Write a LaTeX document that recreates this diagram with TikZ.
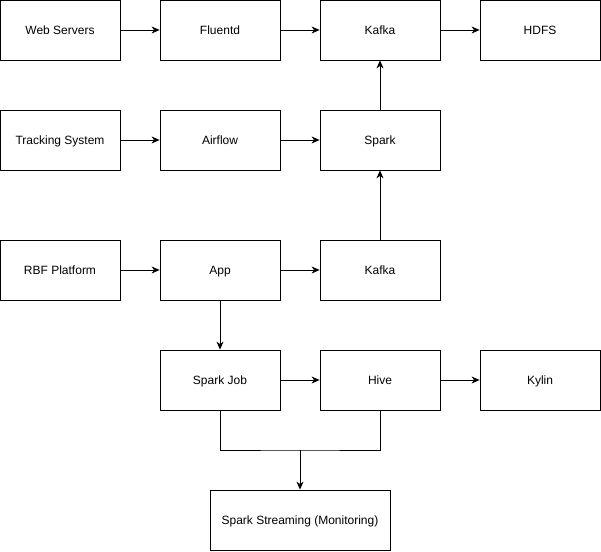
\documentclass[tikz,border=0pt]{standalone}
\usepackage{fontspec}
\setmainfont{Liberation Sans}
\usetikzlibrary{arrows.meta}
\begin{document}
\begin{tikzpicture}[x=1pt,y=-1pt,
  box/.style={draw,line width=0.8pt,minimum width=120pt,minimum height=60pt,inner sep=0pt,text height=9pt,text depth=0.5pt,font=\fontsize{12}{14}\selectfont},
  wide/.style={box,minimum width=180pt},
  arr/.style={line width=0.8pt,-{Stealth[length=8pt,width=7pt,inset=2.5pt]}}]
\useasboundingbox (0,0) rectangle (601,551);
\node[box] (web) at (60,30) {Web Servers};
\node[box] (flu) at (220,30) {Fluentd};
\node[box] (kaf1) at (380,30) {Kafka};
\node[box] (hdfs) at (540,30) {HDFS};
\node[box] (trk) at (60,140) {Tracking System};
\node[box] (air) at (220,140) {Airflow};
\node[box] (spk) at (380,140) {Spark};
\node[box] (rbf) at (60,270) {RBF Platform};
\node[box] (app) at (220,270) {App};
\node[box] (kaf2) at (380,270) {Kafka};
\node[box] (sjob) at (220,380) {Spark Job};
\node[box] (hive) at (380,380) {Hive};
\node[box] (kyl) at (540,380) {Kylin};
\node[wide] (ss) at (300,520) {Spark Streaming (Monitoring)};
\coordinate (m) at (300,450);
\draw[arr] (web) -- (flu);
\draw[arr] (flu) -- (kaf1);
\draw[arr] (kaf1) -- (hdfs);
\draw[arr] (trk) -- (air);
\draw[arr] (air) -- (spk);
\draw[arr] (spk) -- (kaf1);
\draw[arr] (rbf) -- (app);
\draw[arr] (app) -- (kaf2);
\draw[arr] (kaf2) -- (spk);
\draw[arr] (app) -- (sjob);
\draw[arr] (sjob) -- (hive);
\draw[arr] (hive) -- (kyl);
\draw[line width=0.8pt] (sjob.south) |- (m) -| (hive.south);
\draw[arr] (m) -- (ss);
\end{tikzpicture}
\end{document}
